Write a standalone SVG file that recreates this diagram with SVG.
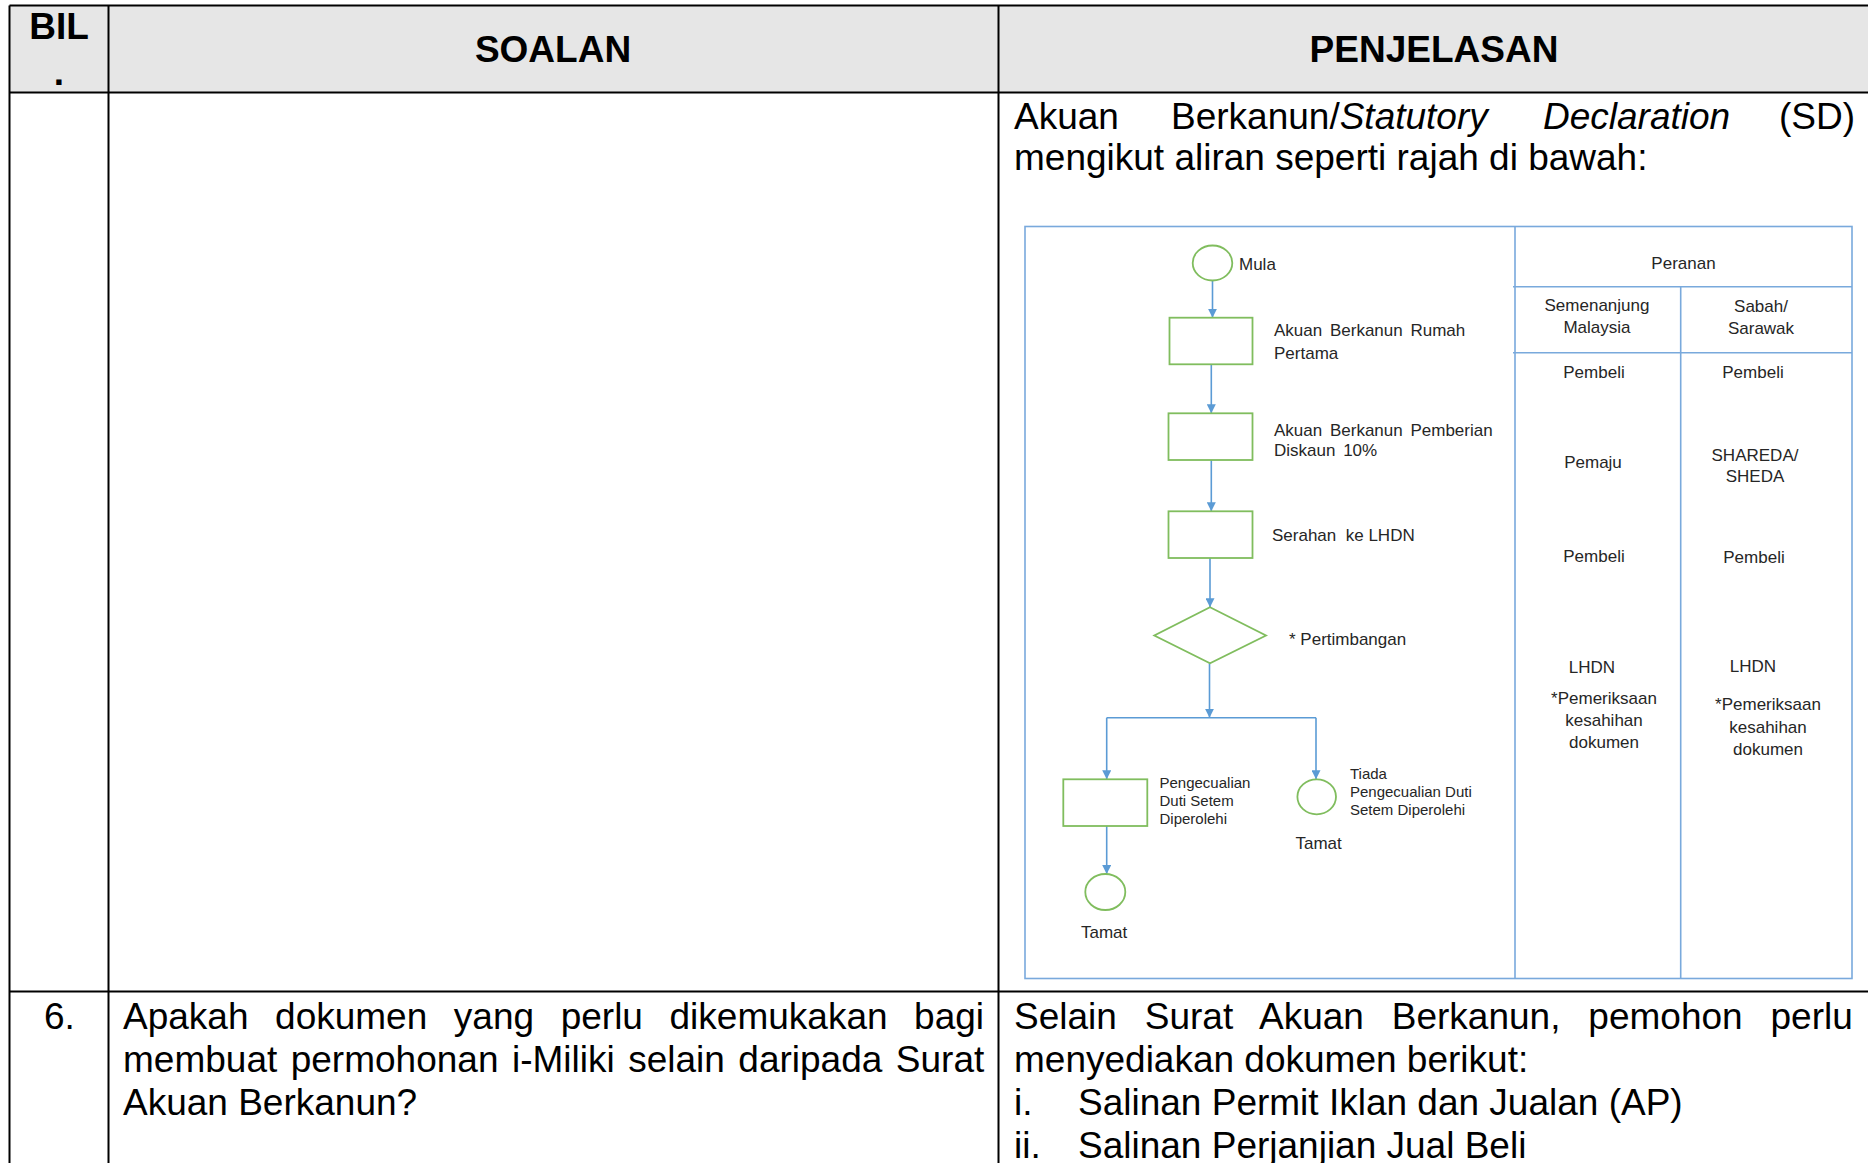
<svg xmlns="http://www.w3.org/2000/svg" width="1868" height="1163" viewBox="0 0 1868 1163">
<style>
.t{font-family:"Liberation Sans",Arial,sans-serif;fill:#000}
.h{font-family:"Liberation Sans",Arial,sans-serif;font-weight:bold;font-size:37px;fill:#000}
.b{font-size:37px}
.grid{stroke:#000;stroke-width:2;fill:none}
.fr{stroke:#79a9dc;stroke-width:1.6;fill:none}
.g{stroke:#80bd5e;stroke-width:1.8;fill:#fff}
.c{stroke:#5b9bd5;stroke-width:1.6;fill:none}
.f{font-family:"Liberation Sans",Arial,sans-serif;font-size:17px;fill:#262626}
.s{font-family:"Liberation Sans",Arial,sans-serif;font-size:15px;fill:#262626}
.m{text-anchor:middle}
</style>
<defs>
<marker id="ar" viewBox="0 0 10 10" refX="10" refY="5" markerWidth="9" markerHeight="9" markerUnits="userSpaceOnUse" orient="auto">
<path d="M0,0 L10,5 L0,10 z" fill="#5b9bd5"/>
</marker>
</defs>
<rect width="1868" height="1163" fill="#fff"/>
<g id="table">
<rect x="9.5" y="5.5" width="1870" height="87" fill="#e6e6e6"/>
<path class="grid" d="M9.5,5.5 H1868 M9.5,92.5 H1868 M9.5,991.5 H1868 M9.5,5.5 V1163 M108.5,5.5 V1163 M998.5,5.5 V1163"/>
<text class="h m" x="59" y="39">BIL</text>
<text class="h m" x="59" y="85">.</text>
<text class="h m" x="553" y="62">SOALAN</text>
<text class="h m" x="1434" y="62">PENJELASAN</text>
</g>
<g id="intro-text">
<text class="t b" x="1014" y="129">Akuan</text>
<text class="t b" x="1171" y="129">Berkanun/<tspan font-style="italic">Statutory</tspan></text>
<text class="t b" x="1543" y="129" font-style="italic">Declaration</text>
<text class="t b" x="1855" y="129" text-anchor="end">(SD)</text>
<text class="t b" x="1014" y="170">mengikut aliran seperti rajah di bawah:</text>
</g>
<g id="flow-frame">
<rect class="fr" x="1025" y="226.5" width="827" height="752"/>
<path class="fr" d="M1515,226.5 V978.5 M1513,286.7 H1852 M1513,352.7 H1852 M1680.7,286.7 V978.5"/>
</g>
<g id="roles">
<text class="f m" x="1683.5" y="269">Peranan</text>
<text class="f m" x="1597" y="311">Semenanjung</text>
<text class="f m" x="1597" y="333">Malaysia</text>
<text class="f m" x="1761" y="312">Sabah/</text>
<text class="f m" x="1761" y="334">Sarawak</text>
<text class="f m" x="1594" y="378">Pembeli</text>
<text class="f m" x="1753" y="378">Pembeli</text>
<text class="f m" x="1593" y="468">Pemaju</text>
<text class="f m" x="1755" y="461">SHAREDA/</text>
<text class="f m" x="1755" y="482">SHEDA</text>
<text class="f m" x="1594" y="562">Pembeli</text>
<text class="f m" x="1754" y="563">Pembeli</text>
<text class="f m" x="1592" y="673">LHDN</text>
<text class="f m" x="1604" y="704">*Pemeriksaan</text>
<text class="f m" x="1604" y="726">kesahihan</text>
<text class="f m" x="1604" y="748">dokumen</text>
<text class="f m" x="1753" y="672">LHDN</text>
<text class="f m" x="1768" y="710">*Pemeriksaan</text>
<text class="f m" x="1768" y="733">kesahihan</text>
<text class="f m" x="1768" y="755">dokumen</text>
</g>
<g id="connectors">
<path class="c" marker-end="url(#ar)" d="M1212.5,280.7 V317.7"/>
<path class="c" marker-end="url(#ar)" d="M1211.3,364.3 V413.3"/>
<path class="c" marker-end="url(#ar)" d="M1211.3,460 V511.3"/>
<path class="c" marker-end="url(#ar)" d="M1210,558 V607.3"/>
<path class="c" marker-end="url(#ar)" d="M1209.5,663.3 V717.7"/>
<path class="c" d="M1106.7,717.7 H1316"/>
<path class="c" marker-end="url(#ar)" d="M1106.7,717.7 V779.3"/>
<path class="c" marker-end="url(#ar)" d="M1316,717.7 V779.3"/>
<path class="c" marker-end="url(#ar)" d="M1106.7,826 V874"/>
</g>
<g id="mula">
<ellipse class="g" cx="1212.5" cy="263" rx="19.8" ry="17.5"/>
<text class="f" x="1239" y="270">Mula</text>
</g>
<g id="akuan-rumah">
<rect class="g" x="1169.5" y="317.7" width="83" height="46.6"/>
<text class="f" x="1274" y="336" word-spacing="3">Akuan Berkanun Rumah</text>
<text class="f" x="1274" y="358.5">Pertama</text>
</g>
<g id="akuan-diskaun">
<rect class="g" x="1168.5" y="413.3" width="84" height="46.7"/>
<text class="f" x="1274" y="435.5" word-spacing="3">Akuan Berkanun Pemberian</text>
<text class="f" x="1274" y="456" word-spacing="3">Diskaun 10%</text>
</g>
<g id="serahan">
<rect class="g" x="1168.5" y="511.3" width="84" height="46.7"/>
<text class="f" x="1272" y="541" xml:space="preserve">Serahan  ke LHDN</text>
</g>
<g id="pertimbangan">
<polygon class="g" points="1210,607.3 1266,635.5 1210,663.3 1154.3,635.5"/>
<text class="f" x="1289" y="645">* Pertimbangan</text>
</g>
<g id="pengecualian">
<rect class="g" x="1063.3" y="779.3" width="84" height="46.7"/>
<text class="s" x="1159.5" y="788">Pengecualian</text>
<text class="s" x="1159.5" y="805.5">Duti Setem</text>
<text class="s" x="1159.5" y="824">Diperolehi</text>
</g>
<g id="tamat-tiada">
<ellipse class="g" cx="1316.7" cy="796.8" rx="19.3" ry="17.5"/>
<text class="s" x="1350" y="779">Tiada</text>
<text class="s" x="1350" y="796.5">Pengecualian Duti</text>
<text class="s" x="1350" y="815">Setem Diperolehi</text>
<text class="f" x="1295.5" y="849">Tamat</text>
</g>
<g id="tamat">
<ellipse class="g" cx="1105.3" cy="892" rx="20" ry="18"/>
<text class="f" x="1081" y="938">Tamat</text>
</g>
<g id="row6">
<text class="t b" x="44" y="1029">6.</text>
<text class="t b" x="123" y="1029" word-spacing="16.3">Apakah dokumen yang perlu dikemukakan bagi</text>
<text class="t b" x="123" y="1072" word-spacing="3.2">membuat permohonan i-Miliki selain daripada Surat</text>
<text class="t b" x="123" y="1115">Akuan Berkanun?</text>
<text class="t b" x="1014" y="1029" word-spacing="17.6">Selain Surat Akuan Berkanun, pemohon perlu</text>
<text class="t b" x="1014" y="1072">menyediakan dokumen berikut:</text>
<text class="t b" x="1014" y="1115">i.</text>
<text class="t b" x="1078" y="1115">Salinan Permit Iklan dan Jualan (AP)</text>
<text class="t b" x="1014" y="1158">ii.</text>
<text class="t b" x="1078" y="1158">Salinan Perjanjian Jual Beli</text>
</g>
</svg>
